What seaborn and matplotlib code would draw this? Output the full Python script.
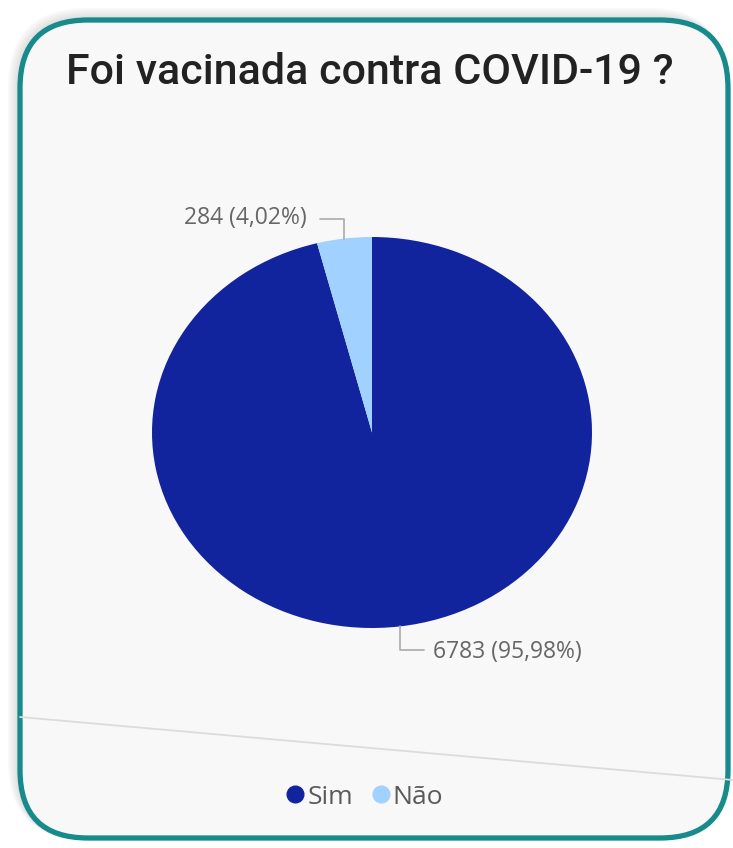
import numpy as np
import pandas as pd
import seaborn as sns
import matplotlib
matplotlib.use("Agg")
import matplotlib.pyplot as plt
from matplotlib.patches import FancyBboxPatch

# Survey answers
categories = ["Sim", "Não"]
counts = [6783, 284]
percent_labels = ["95,98%", "4,02%"]
title = "Foi vacinada contra COVID-19 ?"

sns.set_theme(style="white")
plt.rcParams["font.family"] = ["Open Sans", "DejaVu Sans"]

palette = ["#12239E", "#A0D1FF"]
df = pd.DataFrame({"categoria": categories, "total": counts, "pct": percent_labels})

W, H = 733, 848
fig = plt.figure(figsize=(W / 100, H / 100), dpi=100)
fig.patch.set_facecolor("white")

# Card background in pixel coordinates
bg = fig.add_axes([0, 0, 1, 1])
bg.set_xlim(0, W)
bg.set_ylim(H, 0)
bg.axis("off")
x0c, y0c, wc, hc = 20, 20, 708, 818
for off in range(12, 0, -2):
    bg.add_patch(FancyBboxPatch((x0c - off, y0c - off), wc + off, hc + off + 2,
                                boxstyle=f"round,pad=0,rounding_size={68 + off}",
                                facecolor="#888888", edgecolor="none", alpha=0.05, zorder=1))
bg.add_patch(FancyBboxPatch((x0c, y0c), wc, hc, boxstyle="round,pad=0,rounding_size=68",
                            facecolor="#f8f8f8", edgecolor="#178a8b", lw=3.8, zorder=2))
bg.plot([20, 733], [717, 780], color="#dcdcdc", lw=1.3, zorder=3)
bg.text(370, 72, title, ha="center", va="center", fontsize=31, fontweight="medium",
        family=["Roboto", "DejaVu Sans"], color="#222222", zorder=4)

# Pie (stretched to an ellipse)
ax = fig.add_axes([152 / W, 1 - 628 / H, 440 / W, 391 / H])
wedges, _ = ax.pie(df["total"], colors=palette, startangle=90, counterclock=False,
                   wedgeprops=dict(linewidth=0))
ax.set_aspect("auto")
ax.set_xlim(-1, 1)
ax.set_ylim(-1, 1)
ax.axis("off")

line_kw = dict(color="#aaaaaa", lw=1.2, clip_on=False)
for w, n, p in zip(wedges, df["total"], df["pct"]):
    ang = np.deg2rad((w.theta1 + w.theta2) / 2)
    x0, y0 = np.cos(ang), np.sin(ang)
    label = f"{n} ({p})"
    if y0 > 0:
        x1, y1 = x0, y0 + 0.10
        ax.plot([x0, x1, x1 - 0.11], [y0, y1, y1], **line_kw)
        ax.text(x1 - 0.17, y1 + 0.005, label, ha="right", va="center", fontsize=16.5, color="#666666")
    else:
        x1, y1 = x0, y0 - 0.12
        ax.plot([x0, x1, x1 + 0.11], [y0, y1, y1], **line_kw)
        ax.text(x1 + 0.15, y1 - 0.01, label, ha="left", va="center", fontsize=16.5, color="#666666")

# Legend
handles = [plt.Line2D([], [], marker="o", ls="", markersize=12, color=c) for c in palette]
fig.legend(handles, categories, loc="center", bbox_to_anchor=(362 / W, 1 - 797 / H), ncol=2,
           frameon=False, fontsize=19, handletextpad=-0.1, columnspacing=0.5,
           handlelength=1.1, labelcolor="#5a5a5a")

fig.savefig("out.png", dpi=100, facecolor="white")
